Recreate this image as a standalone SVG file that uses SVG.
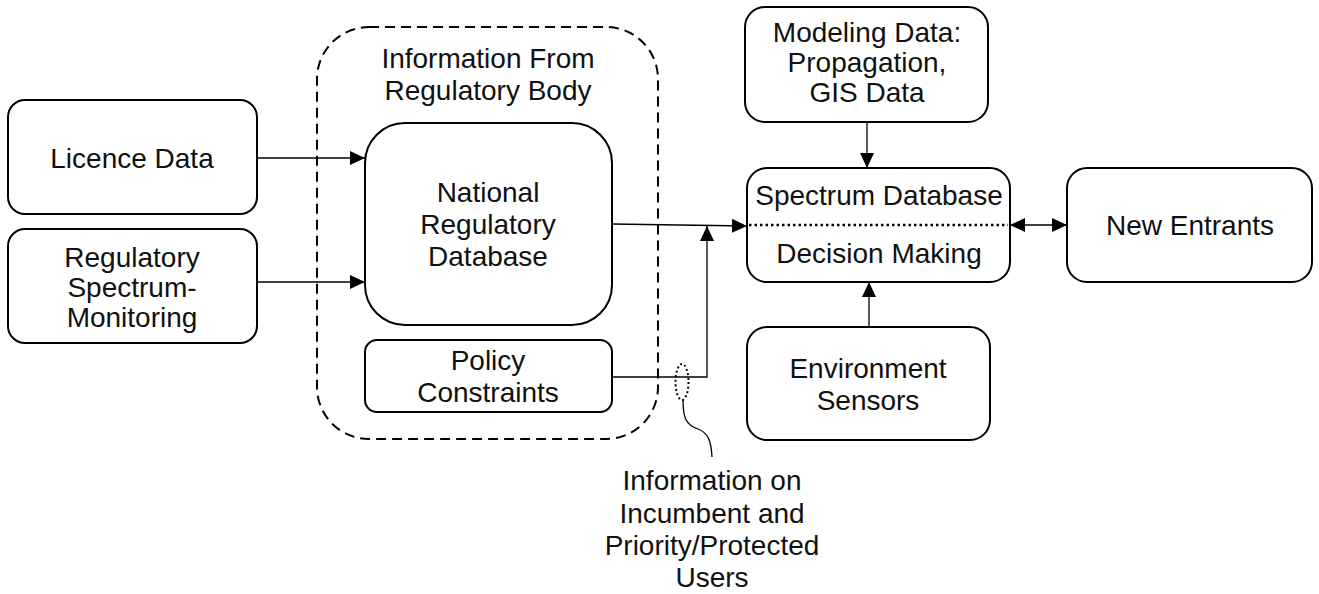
<svg xmlns="http://www.w3.org/2000/svg" width="1319" height="594" viewBox="0 0 1319 594">
  <style>
    .box { fill: #fff; stroke: #000; stroke-width: 2; }
    .group { fill: none; stroke: #000; stroke-width: 2; stroke-dasharray: 10 6; }
    .edge { fill: none; stroke: #000; stroke-width: 1.3; }
    .dot { fill: none; stroke: #000; stroke-width: 2.5; stroke-dasharray: 2.5 3; }
    text { font-family: "Liberation Sans", Arial, sans-serif; font-size: 28px; fill: #111; text-anchor: middle; }
  </style>
  <defs>
    <marker id="arrow" markerUnits="userSpaceOnUse" markerWidth="16" markerHeight="14" refX="15" refY="7" orient="auto-start-reverse">
      <path d="M0,0 L15,7 L0,14 Z" fill="#000"/>
    </marker>
  </defs>
  <rect width="1319" height="594" fill="#fff"/>

  <!-- regulatory body container -->
  <g id="regulatory-body">
    <rect class="group" x="317" y="27" width="341" height="412" rx="52" ry="52"/>
    <text x="488" y="68">Information From</text>
    <text x="488" y="100">Regulatory Body</text>
  </g>

  <g id="licence-data">
    <rect class="box" x="8" y="100" width="249" height="114" rx="17"/>
    <text x="132" y="168">Licence Data</text>
  </g>

  <g id="spectrum-monitoring">
    <rect class="box" x="8" y="229" width="249" height="114" rx="17"/>
    <text x="132" y="267">Regulatory</text>
    <text x="132" y="297">Spectrum-</text>
    <text x="132" y="327">Monitoring</text>
  </g>

  <g id="national-db">
    <rect class="box" x="365" y="123" width="247" height="202" rx="40"/>
    <text x="488" y="202">National</text>
    <text x="488" y="234">Regulatory</text>
    <text x="488" y="266">Database</text>
  </g>

  <g id="policy">
    <rect class="box" x="365" y="340" width="247" height="72" rx="12"/>
    <text x="488" y="370">Policy</text>
    <text x="488" y="402">Constraints</text>
  </g>

  <g id="modeling-data">
    <rect class="box" x="745" y="7" width="243" height="115" rx="20"/>
    <text x="867" y="42">Modeling Data:</text>
    <text x="867" y="72">Propagation,</text>
    <text x="867" y="102">GIS Data</text>
  </g>

  <g id="spectrum-db">
    <rect class="box" x="747" y="168" width="263" height="114" rx="20"/>
    <text x="879" y="205">Spectrum Database</text>
    <text x="879" y="263">Decision Making</text>
    <line class="dot" x1="749" y1="225" x2="1008" y2="225"/>
  </g>

  <g id="new-entrants">
    <rect class="box" x="1067" y="168" width="245" height="114" rx="20"/>
    <text x="1190" y="235">New Entrants</text>
  </g>

  <g id="environment-sensors">
    <rect class="box" x="747" y="327" width="243" height="113" rx="20"/>
    <text x="868" y="378">Environment</text>
    <text x="868" y="410">Sensors</text>
  </g>

  <g id="incumbent-note">
    <ellipse cx="682" cy="382" rx="6.5" ry="18" fill="none" stroke="#000" stroke-width="2" stroke-dasharray="2 2.5"/>
    <path class="edge" d="M683,400 C683,418 686,425 698,429 C708,433 711,440 712,457"/>
    <text x="712" y="490">Information on</text>
    <text x="712" y="523">Incumbent and</text>
    <text x="712" y="555">Priority/Protected</text>
    <text x="712" y="587">Users</text>
  </g>

  <g id="connectors">
    <line class="edge" x1="257" y1="158" x2="365" y2="158" marker-end="url(#arrow)"/>
    <line class="edge" x1="257" y1="282" x2="365" y2="282" marker-end="url(#arrow)"/>
    <path class="edge" d="M612,224 L747,226" marker-end="url(#arrow)"/>
    <path class="edge" d="M612,377 L707,377 L707,226" marker-end="url(#arrow)"/>
    <line class="edge" x1="867" y1="122" x2="867" y2="168" marker-end="url(#arrow)"/>
    <line class="edge" x1="869" y1="327" x2="869" y2="282" marker-end="url(#arrow)"/>
    <line class="edge" x1="1010" y1="225" x2="1067" y2="225" marker-start="url(#arrow)" marker-end="url(#arrow)"/>
  </g>
</svg>
